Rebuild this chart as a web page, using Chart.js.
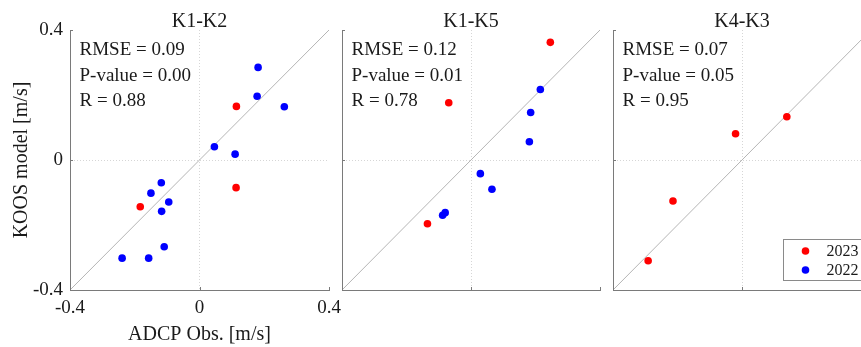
<!DOCTYPE html>
<html>
<head>
<meta charset="utf-8">
<title>KOOS vs ADCP</title>
<script src="https://cdn.jsdelivr.net/npm/chart.js@4"></script>
<style>
  html, body { margin: 0; padding: 0; background: #fff; overflow: hidden; width: 861px; height: 347px; }
  canvas { position: absolute; top: 0; }
</style>
</head>
<body>
<canvas id="p1" width="350" height="347" style="left:0"></canvas>
<canvas id="p2" width="280" height="347" style="left:330px"></canvas>
<canvas id="p3" width="280" height="347" style="left:600px"></canvas>
<script>
// ── Data (x = ADCP obs, y = KOOS model, m/s) ──────────────
const tickValues = [-0.4, 0, 0.4];
const tickLabels = ['-0.4', '0', '0.4'];
const diag = [-0.4, 0.4];

const k1k2_2023_x = [0.114, 0.113, -0.183];
const k1k2_2023_y = [0.165, -0.085, -0.144];
const k1k2_2022_x = [0.181, 0.178, 0.262, 0.046, 0.110, -0.118, -0.150, -0.095, -0.117, -0.109, -0.239, -0.157];
const k1k2_2022_y = [0.285, 0.196, 0.164, 0.041, 0.018, -0.070, -0.102, -0.129, -0.158, -0.267, -0.302, -0.302];
const k1k2_stats = ['RMSE = 0.09', 'P-value = 0.00', 'R = 0.88'];

const k1k5_2023_x = [0.246, -0.069, -0.135];
const k1k5_2023_y = [0.362, 0.176, -0.196];
const k1k5_2022_x = [0.215, 0.185, 0.181, 0.029, 0.065, -0.080, -0.088];
const k1k5_2022_y = [0.217, 0.146, 0.056, -0.042, -0.090, -0.162, -0.170];
const k1k5_stats = ['RMSE = 0.12', 'P-value = 0.01', 'R = 0.78'];

const k4k3_2023_x = [0.139, -0.020, -0.214, -0.291];
const k4k3_2023_y = [0.133, 0.081, -0.126, -0.310];
const k4k3_2022_x = [];
const k4k3_2022_y = [];
const k4k3_stats = ['RMSE = 0.07', 'P-value = 0.05', 'R = 0.95'];

(() => {
  'use strict';

  const FONT = '"Liberation Serif", "Times New Roman", "DejaVu Serif", serif';
  const TEXT = '#1a1a1a';
  const AXIS = '#7a7a7a';
  const GRID = '#d6d6d6';
  const DIAG = '#b5b5b5';
  const RED = '#ff0000';
  const BLUE = '#0000ff';

  const pts = (xs, ys) => xs.map((x, i) => ({ x, y: ys[i] }));

  // ── Title, stats text and inward ticks for each panel ─────
  const panelText = {
    id: 'panelText',
    afterDraw(chart, args, opts) {
      const { ctx, chartArea: a, scales } = chart;
      ctx.save();

      // MATLAB-style inward tick marks
      ctx.strokeStyle = AXIS;
      ctx.lineWidth = 1;
      ctx.beginPath();
      tickValues.forEach(v => {
        const px = Math.round(scales.x.getPixelForValue(v)) + 0.5;
        const py = Math.round(scales.y.getPixelForValue(v)) + 0.5;
        ctx.moveTo(px, a.bottom); ctx.lineTo(px, a.bottom - 3);
        ctx.moveTo(a.left, py); ctx.lineTo(a.left + 3, py);
      });
      ctx.stroke();

      ctx.fillStyle = TEXT;
      ctx.textBaseline = 'alphabetic';
      ctx.textAlign = 'center';
      ctx.font = `20px ${FONT}`;
      ctx.fillText(opts.title, (a.left + a.right) / 2, a.top - 3);
      ctx.textAlign = 'left';
      ctx.font = `19px ${FONT}`;
      opts.stats.forEach((s, i) => ctx.fillText(s, a.left + 9.5, a.top + 25 + i * 25.5));
      ctx.restore();
    },
  };

  // ── Boxed legend (last panel only) ────────────────────────
  const boxLegend = {
    id: 'boxLegend',
    afterDraw(chart, args, opts) {
      if (!opts.show) return;
      const { ctx } = chart;
      const x = opts.x, y = opts.y;
      ctx.save();
      ctx.fillStyle = '#fff';
      ctx.fillRect(x, y, 200, 41);
      ctx.strokeStyle = '#8a8a8a';
      ctx.lineWidth = 1;
      ctx.strokeRect(x + 0.5, y + 0.5, 200, 41);
      ctx.font = `16px ${FONT}`;
      ctx.textBaseline = 'middle';
      ctx.textAlign = 'left';
      chart.data.datasets.filter(d => d.label).forEach((d, i) => {
        const cy = y + 12 + i * 19;
        ctx.fillStyle = d.backgroundColor;
        ctx.beginPath();
        ctx.arc(x + 22.5, cy, 3.8, 0, Math.PI * 2);
        ctx.fill();
        ctx.fillStyle = TEXT;
        ctx.fillText(d.label, x + 43.5, cy + 0.5);
      });
      ctx.restore();
    },
  };

  function axis(opts) {
    return {
      type: 'linear',
      min: -0.4,
      max: 0.4,
      afterBuildTicks: s => { s.ticks = tickValues.map(v => ({ value: v })); },
      afterFit: opts.fit,
      grid: {
        color: c => (c.tick && c.tick.value === 0 ? GRID : 'rgba(0,0,0,0)'),
        lineWidth: 1,
        drawTicks: false,
      },
      border: { color: AXIS, width: 1, dash: [1, 2] },
      ticks: {
        display: opts.labels,
        padding: 7,
        color: TEXT,
        font: { family: FONT, size: 19 },
        callback: (v, i) => tickLabels[i],
      },
      title: {
        display: !!opts.title,
        text: opts.title || '',
        color: TEXT,
        font: { family: FONT, size: 20, lineHeight: 1.2 },
        padding: opts.titlePad || 0,
      },
    };
  }

  function makePanel(id, cfg) {
    new Chart(document.getElementById(id), {
      type: 'scatter',
      data: {
        datasets: [
          { label: '2023', data: pts(cfg.redX, cfg.redY), backgroundColor: RED, borderColor: RED, pointRadius: 3.8, pointBorderWidth: 0 },
          { label: '2022', data: pts(cfg.blueX, cfg.blueY), backgroundColor: BLUE, borderColor: BLUE, pointRadius: 3.8, pointBorderWidth: 0 },
          { data: diag.map(v => ({ x: v, y: v })), showLine: true, borderColor: DIAG, borderWidth: 1, pointRadius: 0 },
        ],
      },
      options: {
        responsive: false,
        animation: false,
        devicePixelRatio: 1,
        layout: { padding: { top: 30, right: cfg.padRight, bottom: 0, left: 0 } },
        plugins: {
          legend: { display: false },
          tooltip: { enabled: false },
          panelText: { title: cfg.title, stats: cfg.stats },
          boxLegend: { show: !!cfg.legend, x: cfg.legend ? cfg.legend[0] : 0, y: cfg.legend ? cfg.legend[1] : 0 },
        },
        scales: {
          x: axis({ labels: cfg.labels, fit: s => { s.height = 57; }, title: cfg.labels ? 'ADCP Obs. [m/s]' : '', titlePad: { top: 0, bottom: 0 } }),
          y: axis({ labels: cfg.labels, fit: s => { s.width = cfg.yWidth; }, title: cfg.labels ? 'KOOS model [m/s]' : '', titlePad: { top: 9.5, bottom: 0 } }),
        },
      },
      plugins: [panelText, boxLegend],
    });
  }

  // ── Init ──────────────────────────────────────────────────
  makePanel('p1', { title: 'K1-K2', stats: k1k2_stats, redX: k1k2_2023_x, redY: k1k2_2023_y, blueX: k1k2_2022_x, blueY: k1k2_2022_y, labels: true, yWidth: 70, padRight: 21 });
  makePanel('p2', { title: 'K1-K5', stats: k1k5_stats, redX: k1k5_2023_x, redY: k1k5_2023_y, blueX: k1k5_2022_x, blueY: k1k5_2022_y, labels: false, yWidth: 12, padRight: 10 });
  makePanel('p3', { title: 'K4-K3', stats: k4k3_stats, redX: k4k3_2023_x, redY: k4k3_2023_y, blueX: k4k3_2022_x, blueY: k4k3_2022_y, labels: false, yWidth: 13, padRight: 9, legend: [183, 239] });
})();
</script>
</body>
</html>
